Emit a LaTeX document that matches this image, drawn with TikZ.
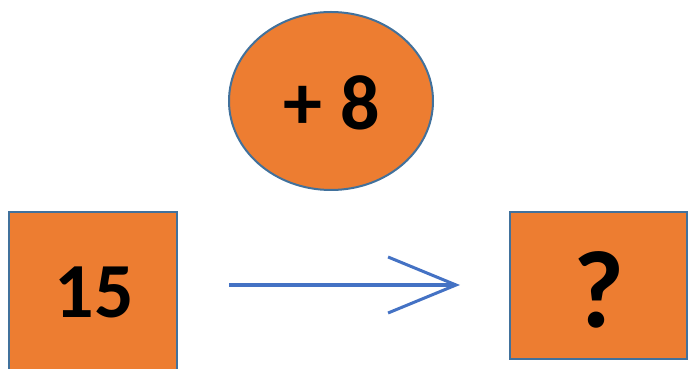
\documentclass[tikz,border=0pt]{standalone}
\usepackage{fontspec}
\setmainfont{Carlito}
\usetikzlibrary{arrows.meta,shapes.geometric}
\definecolor{boxorange}{HTML}{ED7D31}
\definecolor{boxedge}{HTML}{41719C}
\definecolor{arrowblue}{HTML}{4472C4}
\tikzset{
  shapebox/.style={draw=boxedge, fill=boxorange, line width=2pt, inner sep=0pt, font=\bfseries\fontsize{76}{80}\selectfont},
}
\begin{document}
\begin{tikzpicture}[x=1pt,y=1pt]
\useasboundingbox (0,0) rectangle (688,369);
\begin{scope}
\clip (0,0) rectangle (688,369);
\node[shapebox, minimum width=168pt, minimum height=168pt] (a) at (93,73) {};
\end{scope}
\node[font=\bfseries\fontsize{78}{80}\selectfont] (t15) at (94,76.5) {15};
\node[shapebox, minimum width=177pt, minimum height=147pt] (q) at (598.5,83.5) {};
\node[font=\bfseries\fontsize{110}{120}\selectfont] (tq) at (598.5,79) {?};
\node[shapebox, ellipse, minimum width=204pt, minimum height=178pt] (p) at (331,268) {};
\node[font=\bfseries\fontsize{78}{80}\selectfont] (tp) at (332,266) {+ 8};
\coordinate (s) at (229,84);
\coordinate (e) at (460,84);
\draw[arrowblue, line width=3.5pt, -{Straight Barb[length=68pt, width=56pt, line width=3pt]}] (s) -- (e);
\end{tikzpicture}
\end{document}
